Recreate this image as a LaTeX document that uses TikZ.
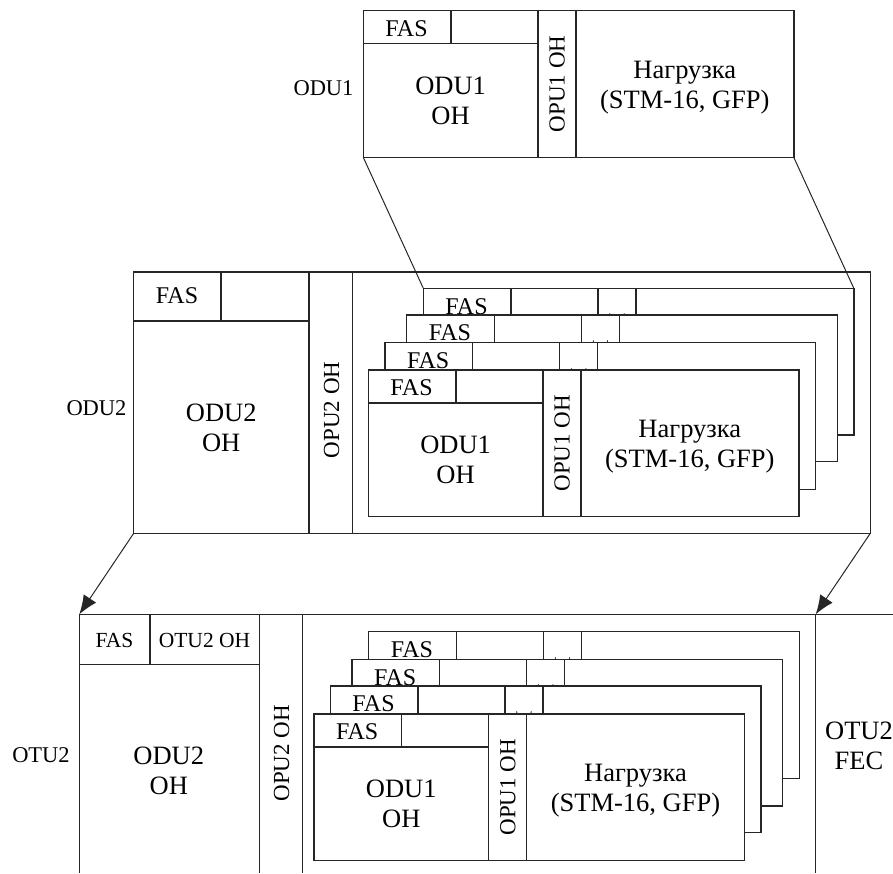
\documentclass[tikz,border=0pt]{standalone}
\usepackage{fontspec}
\setmainfont{Liberation Serif}
\usetikzlibrary{arrows.meta}

\tikzset{
  frame/.style={draw=black!85, line width=1.4pt},
  link/.style={draw=black!85, line width=1pt},
  txt/.style={inner sep=0pt, align=center, font=\fontsize{26.5}{30}\selectfont},
  fastxt/.style={inner sep=0pt, font=\fontsize{24}{28}\selectfont},
  smalltxt/.style={inner sep=0pt, font=\fontsize{21.5}{25}\selectfont},
  vtxt/.style={inner sep=0pt, rotate=90, font=\fontsize{23}{27}\selectfont},
  side/.style={inner sep=0pt, font=\fontsize{22.5}{26}\selectfont},
  arrowlink/.style={link, -{Latex[length=19pt,width=15pt]}},
}

% One ODU1 frame: FAS | ODU1 OH | OPU1 OH | payload, top-left corner at (#2,#3)
\newcommand\oduframe[3]{%
  \begin{scope}[shift={(#2,#3)}]
    \path[frame, fill=white] (0,0) rectangle (430.5,146.7);
    \coordinate (#1-nw) at (0,0);
    \coordinate (#1-ne) at (430.5,0);
    \coordinate (#1-sw) at (0,146.7);
    \coordinate (#1-se) at (430.5,146.7);
    \draw[frame] (0,33) -- (174.6,33);
    \draw[frame] (87.5,0) -- (87.5,33);
    \draw[frame] (174.6,0) -- (174.6,146.7);
    \draw[frame] (212.5,0) -- (212.5,146.7);
    \node[fastxt] (#1-fas) at (43.2,18) {FAS};
    \node[txt] (#1-oh) at (87.3,89.7) {ODU1\\OH};
    \node[vtxt] (#1-opu) at (193.8,73.3) {OPU1 OH};
    \node[txt] (#1-pay) at (321.5,77) {Нагрузка\\(STM-16, GFP)};
  \end{scope}}

\begin{document}
\begin{tikzpicture}[x=1pt, y=-1pt]
  \useasboundingbox (0,0) rectangle (893,873);

  % ---- ODU1 ----
  \oduframe{t}{363.3}{10.7}
  \node[side] (lodu1) at (323.5,88) {ODU1};

  % ---- ODU2 ----
  \draw[frame] (133.7,272) rectangle (870.3,533.3);
  \coordinate (m-sw) at (133.7,533.3);
  \coordinate (m-se) at (870.3,533.3);
  \draw[frame] (133.7,321) -- (309,321);
  \draw[frame] (221,272) -- (221,321);
  \draw[frame] (309,272) -- (309,533.3);
  \draw[frame] (352.3,272) -- (352.3,533.3);
  \node[fastxt] (m-fas) at (177,296) {FAS};
  \node[txt] (m-oh) at (221.2,428) {ODU2\\OH};
  \node[vtxt] (m-opu) at (331.5,410) {OPU2 OH};
  \node[side] (lodu2) at (96.5,408) {ODU2};

  \oduframe{m4}{423.3}{288.3}
  \oduframe{m3}{406.7}{315}
  \oduframe{m2}{385}{342.7}
  \oduframe{m1}{368.3}{370}

  \draw[link] (t-sw) -- (m4-nw);
  \draw[link] (t-se) -- (m4-ne);

  % ---- OTU2 ----
  \coordinate (b-nw) at (79.3,614.3);
  \coordinate (b-fec) at (815.7,614.3);
  \draw[frame] (893,614.3) -- (b-nw) -- (79.3,873);
  \draw[frame] (79.3,664.3) -- (259.3,664.3);
  \draw[frame] (150,614.3) -- (150,664.3);
  \draw[frame] (259.3,614.3) -- (259.3,873);
  \draw[frame] (302.7,614.3) -- (302.7,873);
  \draw[frame] (b-fec) -- (815.7,873);
  \node[smalltxt] (b-fas) at (114.5,640.3) {FAS};
  \node[smalltxt] (b-otuoh) at (204.5,640.3) {OTU2 OH};
  \node[txt] (b-oh) at (168.8,771) {ODU2\\OH};
  \node[vtxt] (b-opu) at (281.5,753.3) {OPU2 OH};
  \node[txt] (b-fectxt) at (859,746) {OTU2\\FEC};
  \node[side] (lotu2) at (41,755) {OTU2};

  \oduframe{b4}{368.7}{631.7}
  \oduframe{b3}{352}{659.3}
  \oduframe{b2}{330.3}{686}
  \oduframe{b1}{314}{714}

  \draw[arrowlink] (m-sw) -- (b-nw);
  \draw[arrowlink] (m-se) -- (b-fec);
\end{tikzpicture}
\end{document}
